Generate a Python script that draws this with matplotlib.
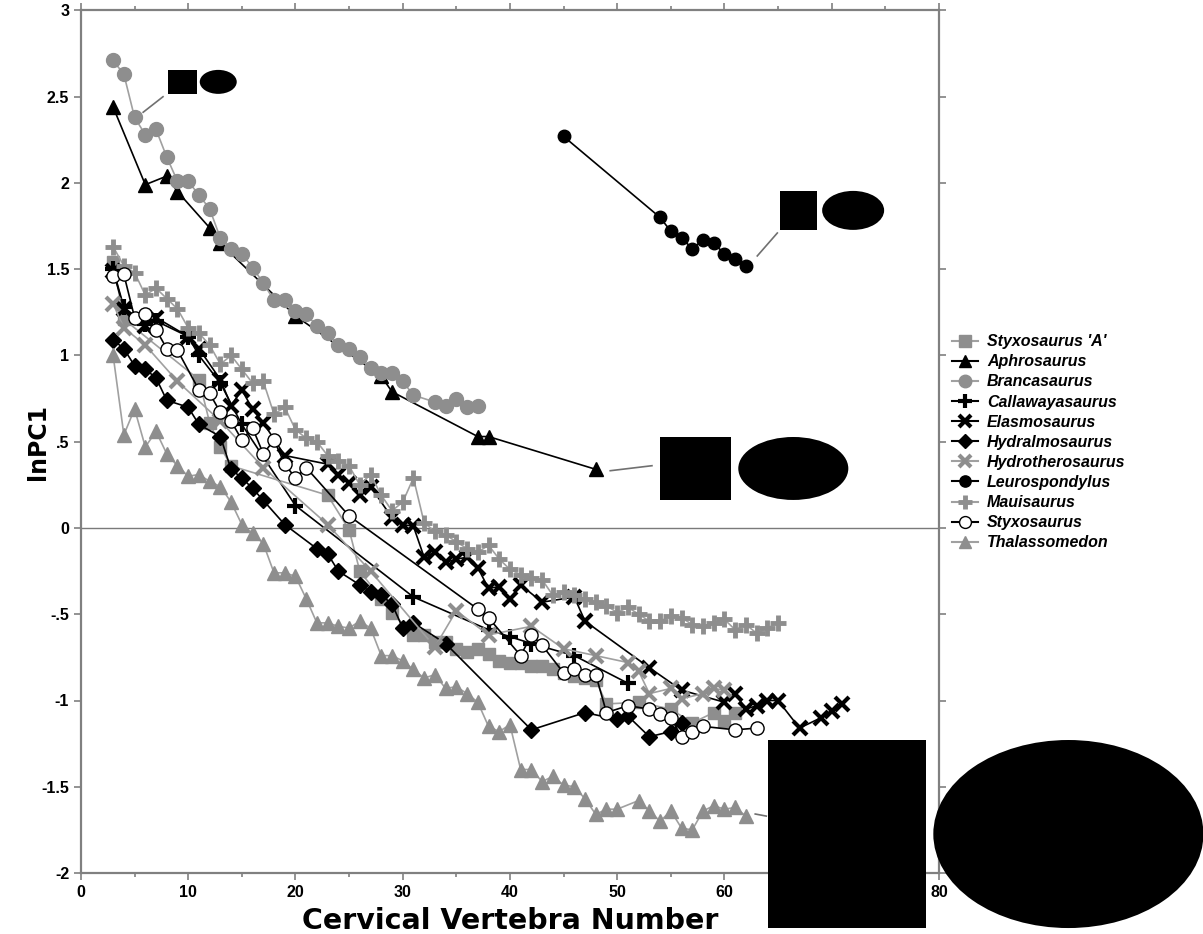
import numpy as np
import matplotlib
matplotlib.use("Agg")
import matplotlib.pyplot as plt
from matplotlib.patches import Rectangle, Ellipse
from matplotlib.lines import Line2D

plt.rcParams['font.family'] = ['Liberation Sans', 'DejaVu Sans']

GRAY = '#8e8e8e'
LGRAY = '#a0a0a0'

# ---- data (vertebra number, lnPC1) ----
styxA_x = [3, 4, 11, 12, 13, 14, 23, 25, 26, 28, 29, 31, 32, 33, 34, 35, 36, 37, 38, 39, 40,
           41, 42, 43, 44, 45, 46, 47, 48, 49, 52, 55, 57, 59, 60, 61]
styxA_y = [1.54, 1.21, 0.86, 0.61, 0.47, 0.36, 0.19, -0.01, -0.25, -0.41, -0.49, -0.62, -0.62,
           -0.66, -0.66, -0.70, -0.72, -0.70, -0.73, -0.77, -0.78, -0.78, -0.80, -0.80, -0.82,
           -0.84, -0.86, -0.87, -0.88, -1.02, -1.01, -1.05, -1.13, -1.07, -1.12, -1.07]

aphro_x = [3, 6, 8, 9, 12, 13, 20, 28, 29, 37, 38, 48]
aphro_y = [2.44, 1.99, 2.04, 1.95, 1.74, 1.65, 1.23, 0.88, 0.79, 0.53, 0.53, 0.34]

branca_x = [3, 4, 5, 6, 7, 8, 9, 10, 11, 12, 13, 14, 15, 16, 17, 18, 19, 20, 21, 22, 23, 24,
            25, 26, 27, 28, 29, 30, 31, 33, 34, 35, 36, 37]
branca_y = [2.71, 2.63, 2.38, 2.28, 2.31, 2.15, 2.01, 2.01, 1.93, 1.85, 1.68, 1.62, 1.59, 1.51,
            1.42, 1.32, 1.32, 1.26, 1.24, 1.17, 1.13, 1.06, 1.04, 0.99, 0.93, 0.90, 0.90, 0.85,
            0.77, 0.73, 0.71, 0.75, 0.70, 0.71]

calla_x = [3, 4, 6, 7, 10, 11, 13, 15, 20, 31, 38, 40, 42, 46, 51]
calla_y = [1.50, 1.28, 1.18, 1.20, 1.11, 1.00, 0.84, 0.60, 0.13, -0.40, -0.59, -0.63, -0.67,
           -0.74, -0.90]

elasmo_x = [3, 4, 6, 7, 10, 11, 13, 14, 15, 16, 17, 19, 23, 24, 25, 26, 27, 29, 30, 31, 32,
            33, 34, 35, 36, 37, 38, 39, 40, 41, 43, 46, 47, 53, 56, 60, 61, 62, 63, 64, 65, 67,
            69, 70, 71]
elasmo_y = [1.49, 1.27, 1.17, 1.22, 1.11, 1.04, 0.86, 0.71, 0.80, 0.69, 0.61, 0.42, 0.37, 0.31,
            0.26, 0.19, 0.24, 0.06, 0.02, 0.01, -0.17, -0.14, -0.20, -0.18, -0.17, -0.23, -0.35,
            -0.34, -0.41, -0.33, -0.43, -0.40, -0.54, -0.81, -0.94, -1.01, -0.96, -1.05, -1.03,
            -1.00, -1.00, -1.16, -1.10, -1.06, -1.02]

hydral_x = [3, 4, 5, 6, 7, 8, 10, 11, 13, 14, 15, 16, 17, 19, 22, 23, 24, 26, 27, 28, 29, 30,
            31, 34, 42, 47, 50, 51, 53, 55, 56]
hydral_y = [1.09, 1.04, 0.94, 0.92, 0.87, 0.74, 0.70, 0.60, 0.53, 0.34, 0.29, 0.23, 0.16, 0.02,
            -0.12, -0.15, -0.25, -0.33, -0.37, -0.39, -0.44, -0.58, -0.55, -0.67, -1.17, -1.07,
            -1.11, -1.09, -1.21, -1.18, -1.13]

hydro_x = [3, 4, 6, 9, 13, 17, 23, 27, 33, 35, 38, 42, 45, 48, 51, 52, 53, 55, 56, 58, 59, 60]
hydro_y = [1.30, 1.16, 1.06, 0.85, 0.62, 0.35, 0.02, -0.25, -0.69, -0.48, -0.62, -0.57, -0.70,
           -0.74, -0.78, -0.83, -0.96, -0.93, -0.99, -0.96, -0.93, -0.94]

leuro_x = [45, 54, 55, 56, 57, 58, 59, 60, 61, 62]
leuro_y = [2.27, 1.80, 1.72, 1.68, 1.62, 1.67, 1.65, 1.59, 1.56, 1.52]

maui_x = list(range(3, 66))
maui_y = [1.63, 1.52, 1.48, 1.35, 1.39, 1.33, 1.27, 1.16, 1.13, 1.06, 0.95, 1.00, 0.92, 0.84,
          0.85, 0.66, 0.70, 0.57, 0.52, 0.50, 0.42, 0.39, 0.36, 0.25, 0.31, 0.19, 0.10, 0.15,
          0.29, 0.03, -0.02, -0.04, -0.08, -0.12, -0.14, -0.10, -0.18, -0.24, -0.27, -0.29,
          -0.30, -0.39, -0.37, -0.39, -0.41, -0.43, -0.45, -0.49, -0.46, -0.50, -0.54, -0.54,
          -0.51, -0.52, -0.56, -0.57, -0.55, -0.53, -0.59, -0.56, -0.61, -0.58, -0.55]

styx_x = [3, 4, 5, 6, 7, 8, 9, 11, 12, 13, 14, 15, 16, 17, 18, 19, 20, 21, 25, 37, 38, 41, 42,
          43, 45, 46, 47, 48, 49, 51, 53, 54, 55, 56, 57, 58, 61, 63]
styx_y = [1.46, 1.47, 1.22, 1.24, 1.15, 1.04, 1.03, 0.80, 0.78, 0.67, 0.62, 0.51, 0.58, 0.43,
          0.51, 0.37, 0.29, 0.35, 0.07, -0.47, -0.52, -0.74, -0.62, -0.68, -0.84, -0.82, -0.85,
          -0.85, -1.07, -1.03, -1.05, -1.08, -1.10, -1.21, -1.18, -1.15, -1.17, -1.16]

thal_x = list(range(3, 50)) + [50, 52, 53, 54, 55, 56, 57, 58, 59, 60, 61, 62]
thal_y = [1.00, 0.54, 0.69, 0.47, 0.56, 0.43, 0.36, 0.30, 0.31, 0.27, 0.24, 0.15, 0.02, -0.03,
          -0.09, -0.26, -0.26, -0.28, -0.41, -0.55, -0.55, -0.57, -0.58, -0.54, -0.58, -0.74,
          -0.74, -0.77, -0.82, -0.87, -0.85, -0.93, -0.92, -0.96, -1.01, -1.15, -1.18, -1.14,
          -1.40, -1.40, -1.47, -1.44, -1.49, -1.50, -1.57, -1.66, -1.63, -1.63, -1.58, -1.64,
          -1.70, -1.64, -1.74, -1.75, -1.64, -1.61, -1.63, -1.62, -1.67]

# series: name, x, y, marker, face, edge, line colour, size, mew
series = [
    ("Styxosaurus 'A'", styxA_x, styxA_y, 's', GRAY, GRAY, LGRAY, 9, 1),
    ("Aphrosaurus", aphro_x, aphro_y, '^', 'black', 'black', 'black', 10, 1),
    ("Brancasaurus", branca_x, branca_y, 'o', GRAY, GRAY, LGRAY, 10, 1),
    ("Callawayasaurus", calla_x, calla_y, '+', 'black', 'black', 'black', 11, 3),
    ("Elasmosaurus", elasmo_x, elasmo_y, 'x', 'black', 'black', 'black', 10, 3),
    ("Hydralmosaurus", hydral_x, hydral_y, 'D', 'black', 'black', 'black', 8, 1),
    ("Hydrotherosaurus", hydro_x, hydro_y, 'x', GRAY, GRAY, LGRAY, 10, 3),
    ("Leurospondylus", leuro_x, leuro_y, 'o', 'black', 'black', 'black', 9, 1),
    ("Mauisaurus", maui_x, maui_y, '+', GRAY, GRAY, LGRAY, 11, 3.5),
    ("Styxosaurus", styx_x, styx_y, 'o', 'white', 'black', 'black', 9.5, 1),
    ("Thalassomedon", thal_x, thal_y, '^', GRAY, GRAY, LGRAY, 10, 1),
]

# schematic cross-sections: connector (x0, y0, x1, y1), square (x, y, w, h), ellipse (cx, cy, w, h)
shapes = [
    ((5.8, 2.41, 7.65, 2.50), (8.1, 2.516, 2.7, 0.139), (12.8, 2.586, 3.45, 0.139)),
    ((63.06, 1.577, 64.93, 1.710), (65.2, 1.728, 3.46, 0.226), (72.0, 1.841, 5.78, 0.226)),
    ((49.35, 0.332, 53.24, 0.361), (54.0, 0.162, 6.63, 0.366), (66.42, 0.345, 10.26, 0.365)),
    ((62.87, -1.658, 63.9, -1.67), (64.09, -2.319, 14.73, 1.09), (92.07, -1.774, 25.19, 1.09)),
]

fig = plt.figure(figsize=(12.03, 9.34), dpi=100)
ax = fig.add_axes([0.0673, 0.0653, 0.7132, 0.9235])

ax.axhline(0, color='#7a7a7a', lw=1.0, zorder=1)

handles = []
for name, xs, ys, mk, fc, ec, lc, ms, mew in series:
    ax.plot(xs, ys, color=lc, lw=1.2, marker=mk, ms=ms, mfc=fc, mec=ec, mew=mew, zorder=3)
    handles.append(Line2D([], [], color=lc, lw=1.5, marker=mk, ms=ms * 0.9, mfc=fc, mec=ec,
                          mew=mew, label=name))

for (lx0, ly0, lx1, ly1), (sx, sy, sw, sh), (ex, ey, ew, eh) in shapes:
    ax.plot([lx0, lx1], [ly0, ly1], color='#707070', lw=1.2, clip_on=False, zorder=4)
    ax.add_patch(Rectangle((sx, sy), sw, sh, facecolor='black', edgecolor='none',
                           clip_on=False, zorder=10))
    ax.add_patch(Ellipse((ex, ey), ew, eh, facecolor='black', edgecolor='none',
                         clip_on=False, zorder=10))

ax.set_xlim(0, 80)
ax.set_ylim(-2, 3)
ax.set_xticks(np.arange(0, 81, 10))
ax.set_xticks(np.arange(5, 80, 10), minor=True)
ax.set_yticks(np.arange(-2, 3.01, 0.5))
ax.set_yticklabels(['-2', '-1.5', '-1', '-.5', '0', '.5', '1', '1.5', '2', '2.5', '3'])
ax.tick_params(which='both', direction='out', top=True, right=True, color='#808080',
               labelsize=11.5, width=1.2)
ax.tick_params(which='major', length=5)
ax.tick_params(which='minor', length=3)
for lab in ax.get_xticklabels() + ax.get_yticklabels():
    lab.set_fontweight('bold')
for sp in ax.spines.values():
    sp.set_color('#808080')
    sp.set_linewidth(1.6)

ax.set_xlabel('Cervical Vertebra Number', fontsize=20.5, fontweight='bold', labelpad=5,
              family=['DejaVu Sans'])
ax.set_ylabel('lnPC1', fontsize=17, fontweight='bold', family=['DejaVu Sans'])
ax.yaxis.set_label_coords(-0.036, 0.5)

leg = fig.legend(handles=handles, loc='upper left', bbox_to_anchor=(0.786, 0.649),
                 frameon=False, prop={'weight': 'bold', 'style': 'italic', 'size': 11.5},
                 handlelength=1.6, handletextpad=0.6, labelspacing=0.32, borderaxespad=0)

fig.savefig('out.png', dpi=100)
